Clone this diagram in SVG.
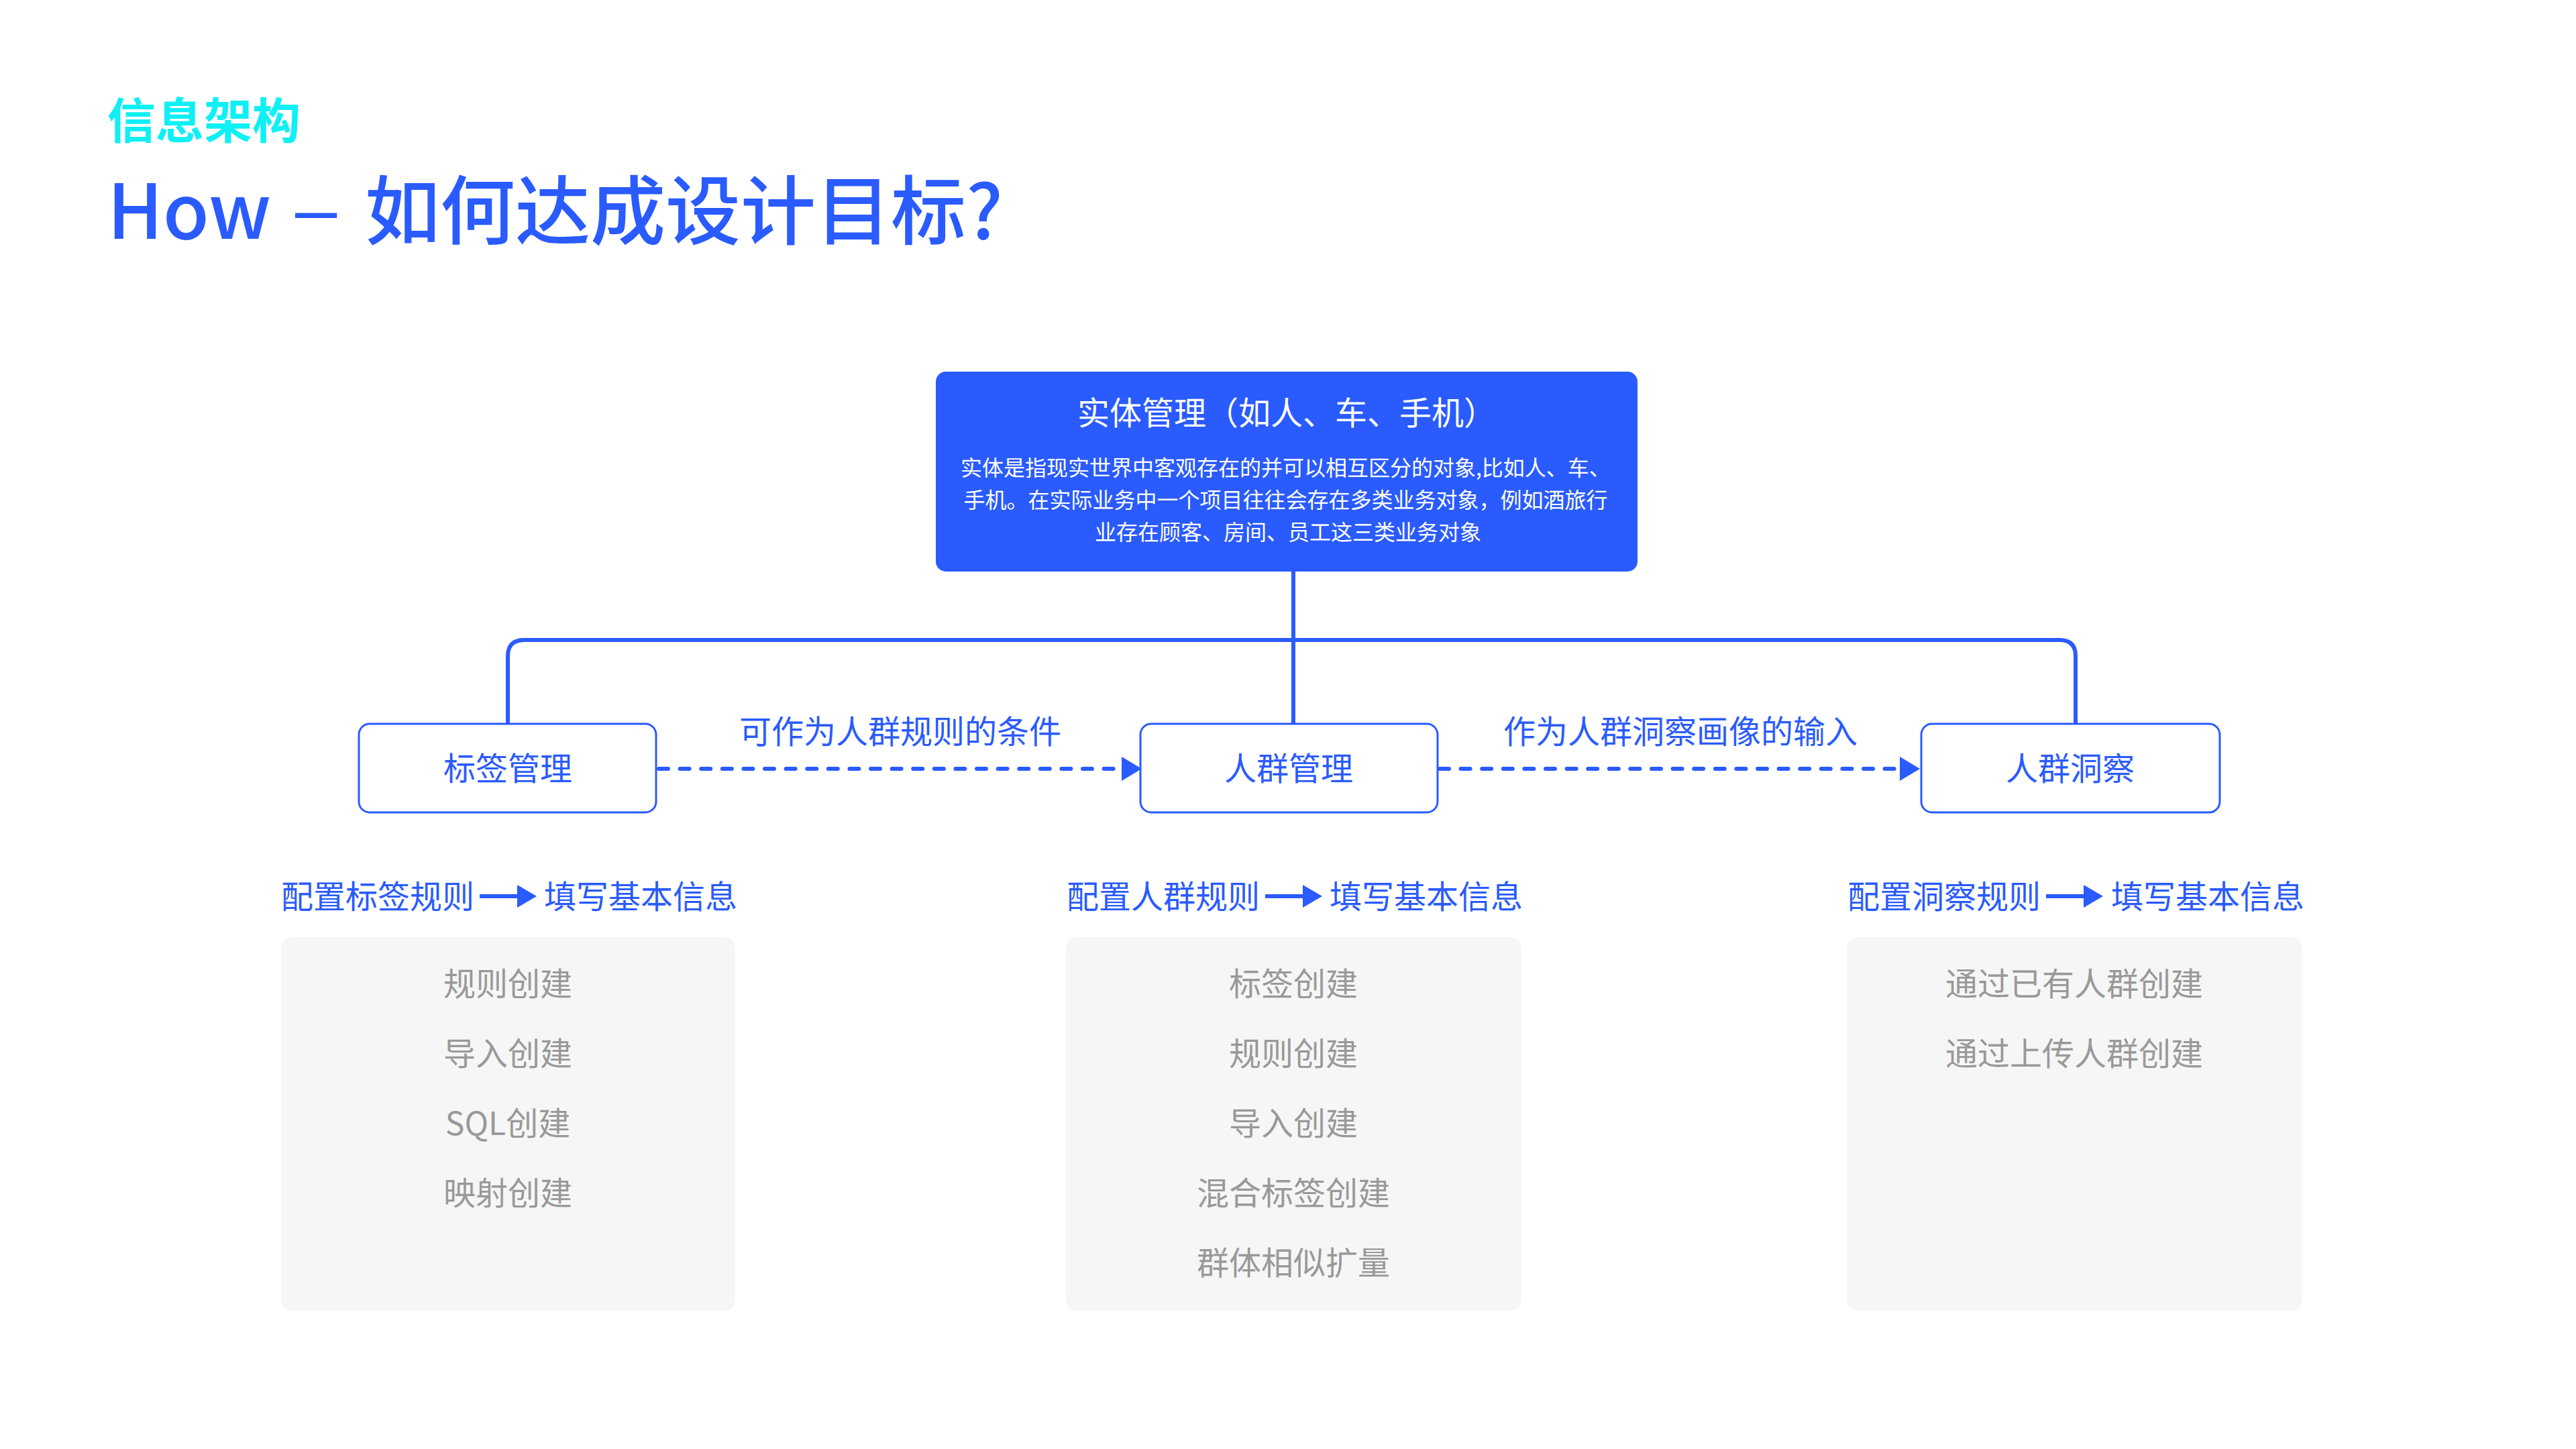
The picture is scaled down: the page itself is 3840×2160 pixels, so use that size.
<svg xmlns="http://www.w3.org/2000/svg" width="3840" height="2160" viewBox="0 0 3840 2160">
<style>
text{font-family:"Noto Sans CJK SC","Noto Sans",sans-serif}
.blue{fill:#2a5bff}
.node{fill:#fff;stroke:#2a5bff;stroke-width:3}
.ntext{font-size:48px;fill:#2a5bff;text-anchor:middle}
.lbl{font-size:48px;fill:#2a5bff;text-anchor:middle}
.hdr{font-size:48px;fill:#2a5bff}
.panel{fill:#f6f6f6}
.item{font-size:48px;fill:#999;text-anchor:middle}
.conn{fill:none;stroke:#2a5bff;stroke-width:6}
.dash{fill:none;stroke:#2a5bff;stroke-width:6;stroke-dasharray:14 17.6;stroke-linecap:round}
</style>
<defs>
<marker id="ah" viewBox="0 0 30 36" refX="0" refY="18" markerWidth="30" markerHeight="36" markerUnits="userSpaceOnUse" orient="auto">
<path d="M0 0L30 18L0 36Z" fill="#2a5bff"/>
</marker>
</defs>
<rect width="3840" height="2160" fill="#fff"/>
<g id="heading">
<text x="160" y="206" font-size="72" font-weight="700" fill="#0ff0f5">信息架构</text>
<text y="356" font-size="112" font-weight="500" class="blue"><tspan x="160">How</tspan><tspan x="440" dy="-6" style="font-family:'Liberation Sans',sans-serif">–</tspan><tspan x="544" dy="6">如何达成设计目标?</tspan></text>
</g>
<g id="connectors">
<path class="conn" d="M1928 852V1079"/>
<path class="conn" d="M757 1079V978Q757 954 781 954H3070Q3094 954 3094 978V1079"/>
<path class="dash" d="M982 1146H1672" marker-end="url(#ah)"/>
<path class="dash" d="M2146 1146H2832" marker-end="url(#ah)"/>
<text class="lbl" x="1342" y="1108">可作为人群规则的条件</text>
<text class="lbl" x="2505" y="1108">作为人群洞察画像的输入</text>
</g>
<g id="entity">
<rect x="1395" y="554" width="1046" height="298" rx="15" fill="#2a5bff"/>
<text x="1918" y="633" font-size="48" fill="#fff" text-anchor="middle">实体管理（如人、车、手机）</text>
<text font-size="32" fill="#fff" text-anchor="middle">
<tspan x="1920" y="709">实体是指现实世界中客观存在的并可以相互区分的对象,比如人、车、</tspan>
<tspan x="1920" y="757">手机。在实际业务中一个项目往往会存在多类业务对象，例如酒旅行</tspan>
<tspan x="1920" y="805">业存在顾客、房间、员工这三类业务对象</tspan>
</text>
</g>
<g id="tag-mgmt">
<rect class="node" x="535" y="1079" width="443" height="132" rx="16"/>
<text class="ntext" x="757" y="1163">标签管理</text>
</g>
<g id="crowd-mgmt">
<rect class="node" x="1700" y="1079" width="443" height="132" rx="16"/>
<text class="ntext" x="1921" y="1163">人群管理</text>
</g>
<g id="crowd-insight">
<rect class="node" x="2864" y="1079" width="445" height="132" rx="16"/>
<text class="ntext" x="3086" y="1163">人群洞察</text>
</g>
<g id="tag-panel">
<text class="hdr" x="419" y="1354">配置标签规则</text>
<path d="M715 1336H772" stroke="#2a5bff" stroke-width="6"/>
<path d="M771 1319L800 1336L771 1353Z" class="blue"/>
<text class="hdr" x="811" y="1354">填写基本信息</text>
<rect class="panel" x="419" y="1397" width="677" height="557" rx="16"/>
<text class="item" x="757" y="1484">规则创建</text>
<text class="item" x="757" y="1588">导入创建</text>
<text class="item" x="757" y="1692">SQL创建</text>
<text class="item" x="757" y="1796">映射创建</text>
</g>
<g id="crowd-panel">
<text class="hdr" x="1590" y="1354">配置人群规则</text>
<path d="M1886 1336H1943" stroke="#2a5bff" stroke-width="6"/>
<path d="M1942 1319L1971 1336L1942 1353Z" class="blue"/>
<text class="hdr" x="1982" y="1354">填写基本信息</text>
<rect class="panel" x="1589" y="1397" width="679" height="557" rx="16"/>
<text class="item" x="1928" y="1484">标签创建</text>
<text class="item" x="1928" y="1588">规则创建</text>
<text class="item" x="1928" y="1692">导入创建</text>
<text class="item" x="1928" y="1796">混合标签创建</text>
<text class="item" x="1928" y="1900">群体相似扩量</text>
</g>
<g id="insight-panel">
<text class="hdr" x="2754" y="1354">配置洞察规则</text>
<path d="M3050 1336H3107" stroke="#2a5bff" stroke-width="6"/>
<path d="M3106 1319L3135 1336L3106 1353Z" class="blue"/>
<text class="hdr" x="3147" y="1354">填写基本信息</text>
<rect class="panel" x="2753" y="1397" width="678" height="557" rx="16"/>
<text class="item" x="3092" y="1484">通过已有人群创建</text>
<text class="item" x="3092" y="1588">通过上传人群创建</text>
</g>
</svg>
